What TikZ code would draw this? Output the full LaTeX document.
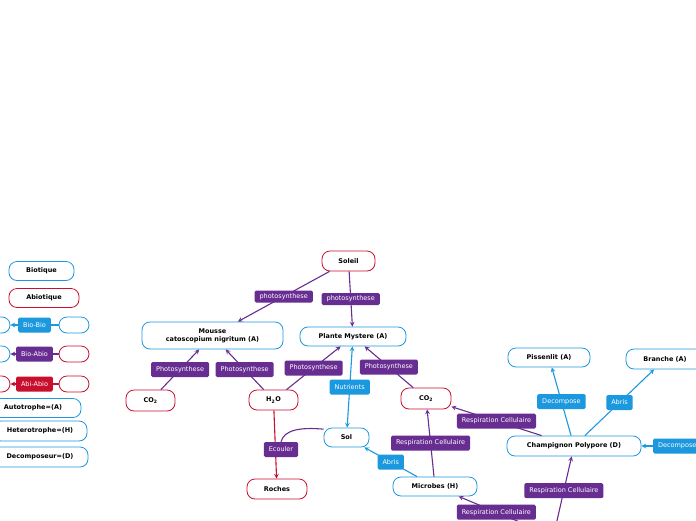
\documentclass[tikz,border=0pt]{standalone}
\usepackage{fontspec}
\setmainfont{DejaVu Sans}
\usepackage{tikz}
\usetikzlibrary{shapes.geometric, arrows}
\definecolor{bleu}{RGB}{28,152,222}
\definecolor{mauve}{RGB}{104,45,145}
\definecolor{rouge}{RGB}{200,16,46}
\tikzstyle{bio} = [rectangle, rounded corners=8pt, minimum height=19pt, text centered, draw=bleu, line width=0.8pt, fill=white, font=\fontsize{6.5}{7.8}\selectfont\bfseries]
\tikzstyle{abio} = [bio, draw=rouge]
\tikzstyle{petit} = [minimum width=30pt, minimum height=16pt]
\tikzstyle{lien} = [rectangle, rounded corners=1.5pt, minimum height=15pt, inner xsep=5pt, inner ysep=0pt, text=white, font=\fontsize{6.5}{7.5}\selectfont]
\tikzstyle{lienB} = [lien, fill=bleu]
\tikzstyle{lienP} = [lien, fill=mauve]
\tikzstyle{lienR} = [lien, fill=rouge]
\tikzstyle{arrowB} = [draw=bleu, line width=1.1pt, ->, >=stealth]
\tikzstyle{arrowP} = [draw=mauve, line width=1.1pt, ->, >=stealth]
\tikzstyle{arrowR} = [draw=rouge, line width=1.1pt, ->, >=stealth]
\tikzstyle{lineP} = [draw=mauve, line width=1.1pt]

\begin{document}
\begin{tikzpicture}[x=1pt, y=-1pt]
		\useasboundingbox [fill=white] (0,0) rectangle (696,520);
		
		% legende
		\node (biotique) [bio, minimum width=65pt] at (41.5,271) {Biotique};
		\node (abiotique) [abio, minimum width=70pt] at (44,298) {Abiotique};
		
		\node (bb1) [bio, petit] at (-5,325) {};
		\node (bb2) [bio, petit] at (74,325) {};
		\node (ba1) [bio, petit] at (-5,354) {};
		\node (ba2) [abio, petit] at (74,354) {};
		\node (aa1) [abio, petit] at (-5,384) {};
		\node (aa2) [abio, petit] at (74,384) {};
		
		\node (auto) [bio, minimum width=96pt] at (33,408) {Autotrophe=(A)};
		\node (hetero) [bio, minimum width=94pt, minimum height=20pt] at (40,431) {Heterotrophe=(H)};
		\node (decomp) [bio, minimum width=96pt, minimum height=20pt] at (40,457) {Decomposeur=(D)};
		
		% carte
		\node (soleil) [abio, minimum width=53pt, minimum height=20pt] at (348.5,261) {Soleil};
		\node (mousse) [bio, minimum width=141pt, minimum height=27pt, align=center] at (212.5,335.5) {Mousse\\catoscopium nigritum (A)};
		\node (plante) [bio, minimum width=106pt] at (353,336.5) {Plante Mystere (A)};
		\node (co2a) [abio, minimum width=49pt, minimum height=21pt] at (150.5,400.5) {CO\textsubscript{2}};
		\node (h2o) [abio, minimum width=49pt, minimum height=20pt] at (273.5,400) {H\textsubscript{2}O};
		\node (co2b) [abio, minimum width=50pt, minimum height=21pt] at (426,398.5) {CO\textsubscript{2}};
		\node (sol) [bio, minimum width=45pt] at (346.5,437.5) {Sol};
		\node (roches) [abio, minimum width=60pt, minimum height=20pt] at (277,489) {Roches};
		\node (microbes) [bio, minimum width=84pt] at (435,486.5) {Microbes (H)};
		\node (pissenlit) [bio, minimum width=82pt] at (549,357.5) {Pissenlit (A)};
		\node (branche) [bio, minimum width=78pt, minimum height=20pt] at (665,359) {Branche (A)};
		\node (champi) [bio, minimum width=134pt, minimum height=20pt] at (574,446) {Champignon Polypore (D)};
		
		\coordinate (horsbas1) at (534,528);
		\coordinate (horsbas2) at (556,525);
		\coordinate (horsdroite) at (713,446);
		
		\draw [arrowB] (bb2) -- node[lienB] (biobio) {Bio-Bio} (bb1);
		\draw [arrowP] (ba2) -- node[lienP] (bioabio) {Bio-Abio} (ba1);
		\draw [arrowR] (aa2) -- node[lienR] (abiabio) {Abi-Abio} (aa1);
		
		\draw [arrowP] (soleil) -- node[lienP, minimum height=12pt] (photo1) {photosynthese} (mousse);
		\draw [arrowP] (soleil) -- node[lienP, minimum height=12pt] (photo2) {photosynthese} (plante);
		
		\draw [arrowP] (co2a) -- node[lienP] (photo3) {Photosynthese} (mousse);
		\draw [arrowP] (h2o) -- node[lienP] (photo4) {Photosynthese} (mousse);
		\draw [arrowP] (h2o) -- node[lienP] (photo5) {Photosynthese} (plante);
		\draw [arrowP] (co2b) -- node[lienP] (photo6) {Photosynthese} (plante);
		
		\draw [arrowB, <->] (plante) -- node[lienB] (nutri) {Nutrients} (sol);
		
		\draw [arrowR] (h2o) -- (roches);
		\node (ecouler) [lienP] at (281,449.5) {Ecouler};
		\draw [lineP] (sol.160) .. controls (300,427) and (284,430) .. (ecouler.north);
		
		\draw [arrowB] (microbes) -- node[lienB] (abris1) {Abris} (sol);
		\draw [arrowP] (microbes) -- node[lienP] (resp1) {Respiration Cellulaire} (co2b);
		\draw [arrowP] (champi) -- node[lienP] (resp2) {Respiration Cellulaire} (co2b);
		\draw [arrowP] (horsbas1) -- node[lienP] (resp3) {Respiration Cellulaire} (microbes);
		\draw [arrowP] (horsbas2) -- node[lienP] (resp4) {Respiration Cellulaire} (champi);
		
		\draw [arrowB] (champi) -- node[lienB] (decomp1) {Decompose} (pissenlit);
		\draw [arrowB] (champi) -- node[lienB] (abris2) {Abris} (branche);
		\draw [arrowB] (horsdroite) -- node[lienB] (decomp2) {Decompose} (champi);
		
\end{tikzpicture}
\end{document}
